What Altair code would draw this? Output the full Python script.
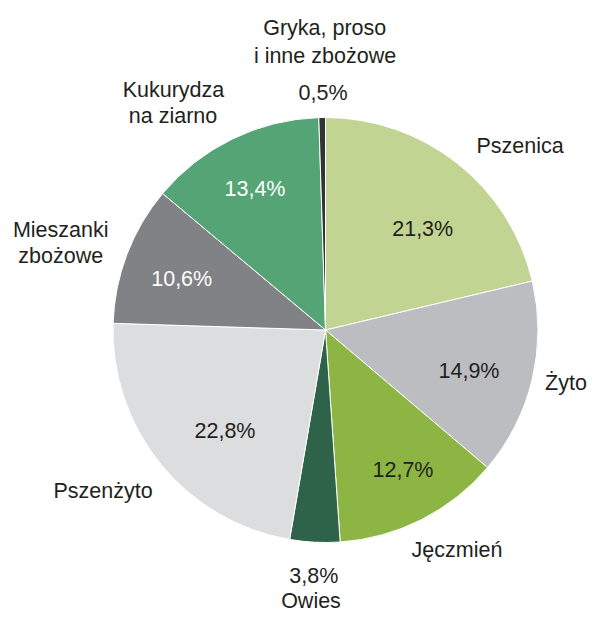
import altair as alt
import pandas as pd

# Data
categories = ["Pszenica", "Żyto", "Jęczmień", "Owies", "Pszenżyto",
              "Mieszanki zbożowe", "Kukurydza na ziarno", "Gryka, proso i inne zbożowe"]
shares = [21.3, 14.9, 12.7, 3.8, 22.8, 10.6, 13.4, 0.5]
pct_labels = ["21,3%", "14,9%", "12,7%", "3,8%", "22,8%", "10,6%", "13,4%", "0,5%"]
colors = ["#c1d492", "#bcbdc1", "#8db543", "#2e634a", "#dcdddf",
          "#818285", "#54a475", "#333333"]
pct_colors = ["#231f20", "#231f20", "#231f20", "#231f20", "#231f20",
              "#ffffff", "#ffffff", "#231f20"]

# Category name label lines
name_lines = ["Pszenica", "Żyto", "Jęczmień", "Owies", "Pszenżyto",
              "Mieszanki", "zbożowe", "Kukurydza", "na ziarno",
              "Gryka, proso", "i inne zbożowe"]

# Layout: label anchors (centre x, baseline y) in page pixels
pct_pos = [(422.7, 236), (469, 377.7), (403, 477), (313.8, 583), (225, 438),
           (181.7, 286), (255, 196), (323, 100)]
name_pos = [(520, 152.7), (566, 390), (457, 556.5), (311, 607.5), (103, 497.5),
            (60.7, 237.3), (60.7, 263.3), (173.5, 97.3), (173, 123.3),
            (324.7, 35), (325, 62.5)]

FONT = "Liberation Sans, Arial, sans-serif"
FS = 21.5
M = 8
CX, CY, R = 325.5 - M, 330 - M, 212.5

pie_df = pd.DataFrame({"cat": categories, "share": shares,
                       "idx": list(range(len(categories)))})
pct_df = pd.DataFrame({"t": pct_labels, "c": pct_colors,
                       "px": [p[0] - M for p in pct_pos],
                       "py": [p[1] - M for p in pct_pos]})
name_df = pd.DataFrame({"t": name_lines,
                        "px": [p[0] - M for p in name_pos],
                        "py": [p[1] - M for p in name_pos]})

pie = alt.Chart(pie_df).mark_arc(radius=R, stroke="white", strokeWidth=1).encode(
    theta=alt.Theta("share:Q", stack=True),
    color=alt.Color("cat:N", scale=alt.Scale(domain=categories, range=colors), legend=None),
    order=alt.Order("idx:Q"),
    x=alt.value(CX),
    y=alt.value(CY),
)

pct = alt.Chart(pct_df).mark_text(font=FONT, fontSize=FS, baseline="alphabetic", align="center").encode(
    x=alt.X("px:Q", scale=None),
    y=alt.Y("py:Q", scale=None),
    text="t:N",
    color=alt.Color("c:N", scale=None),
)

names = alt.Chart(name_df).mark_text(font=FONT, fontSize=FS, baseline="alphabetic", align="center",
                                     color="#231f20").encode(
    x=alt.X("px:Q", scale=None),
    y=alt.Y("py:Q", scale=None),
    text="t:N",
)

chart = alt.layer(pie, pct, names).properties(
    width=584, height=605, padding=0,
    autosize=alt.AutoSizeParams(type="none"),
).configure_view(stroke=None)

chart.save("out.html", embed_options={"renderer": "svg", "actions": False})
